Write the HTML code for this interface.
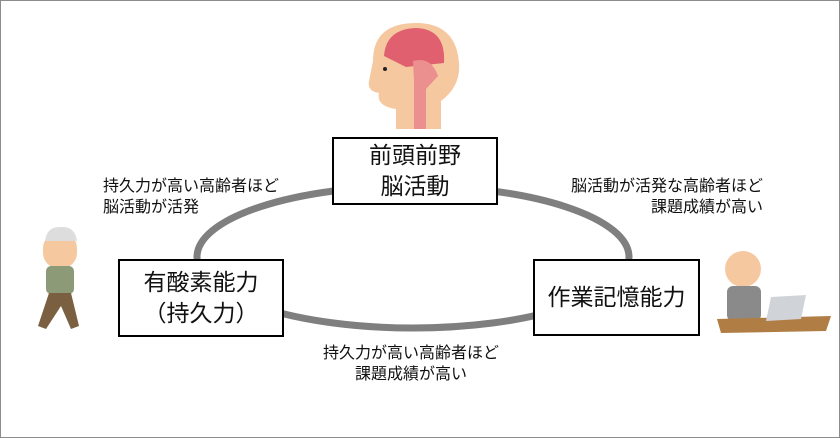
<!DOCTYPE html>
<html><head><meta charset="utf-8"><style>
body{margin:0;width:840px;height:438px;background:#fff;font-family:"Liberation Sans","Noto Sans CJK JP",sans-serif;}
.w{position:relative;width:838px;height:436px;border:1px solid #8c8c8c;overflow:hidden}
.box{position:absolute;border:2px solid #000;background:#fff;box-sizing:border-box;display:flex;align-items:center;justify-content:center;text-align:center;font-size:23px;line-height:31px;color:#111}
.t{position:absolute;font-size:16px;line-height:21px;color:#111}
</style></head><body><div class="w">
<svg width="840" height="438" style="position:absolute;left:0;top:0">
<ellipse cx="412" cy="256" rx="216" ry="71" fill="none" stroke="#7f7f7f" stroke-width="7"/>
<!-- brain head -->
<path d="M372 60 Q372 22 415 22 Q455 22 458 62 Q460 85 440 100 L440 128 L395 128 L395 108 Q375 105 378 92 Q366 90 368 80 Z" fill="#f6c8a0"/>
<path d="M383 55 Q385 28 415 27 Q445 28 443 62 L405 66 Z" fill="#e06070"/>
<path d="M412 60 Q430 55 437 75 L425 88 L425 128 L413 128 L413 80 Z" fill="#ec8f8f"/>
<circle cx="384" cy="68" r="2" fill="#222"/>
<!-- walker -->
<rect x="42" y="232" width="34" height="35" rx="15" fill="#f6c8a0"/>
<path d="M44 240 Q46 225 60 226 Q74 225 76 240 Z" fill="#ddd"/>
<rect x="45" y="265" width="28" height="28" rx="5" fill="#8c9a78"/>
<path d="M48 292 L70 292 L78 325 L70 328 L60 305 L45 328 L37 325 Z" fill="#7a6040"/>
<!-- laptop man -->
<circle cx="742" cy="268" r="18" fill="#f6c8a0"/>
<rect x="726" y="285" width="34" height="35" rx="6" fill="#8a8a8a"/>
<path d="M716 318 L830 315 L825 330 L720 332 Z" fill="#b07d45"/>
<path d="M770 296 L805 294 L800 318 L765 320 Z" fill="#d0d4d8"/>
</svg>
<div class="box" style="left:331px;top:136px;width:166px;height:68px">前頭前野<br>脳活動</div>
<div class="box" style="left:117px;top:258px;width:166px;height:78px">有酸素能力<br>（持久力）</div>
<div class="box" style="left:532px;top:258px;width:167px;height:77px">作業記憶能力</div>
<div class="t" style="left:102px;top:175px">持久力が高い高齢者ほど<br>脳活動が活発</div>
<div class="t" style="left:562px;top:175px;width:200px;text-align:right">脳活動が活発な高齢者ほど<br>課題成績が高い</div>
<div class="t" style="left:300px;top:342px;width:220px;text-align:center">持久力が高い高齢者ほど<br>課題成績が高い</div>
</div></body></html>
